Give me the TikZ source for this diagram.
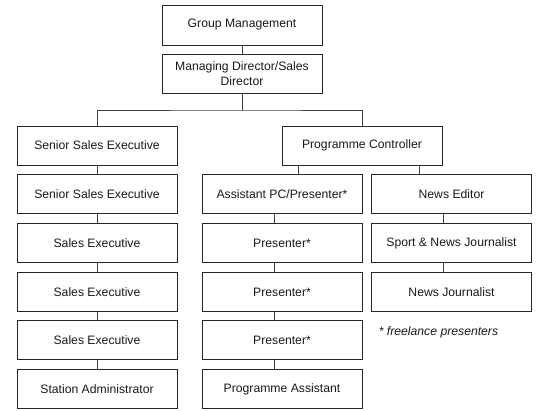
\documentclass[tikz,border=0pt]{standalone}
\usepackage{fontspec}
\setmainfont{Liberation Sans}
\usepackage{tikz}
\usetikzlibrary{positioning,calc}
\tikzset{
    post/.style={rectangle, draw=black!85, line width=0.9pt, minimum width=160pt, minimum height=39pt, inner sep=2pt, align=center, font=\fontsize{12.2}{14.5}\selectfont, text=black!90},
    link/.style={draw=black!75, line width=0.8pt},
    note/.style={font=\fontsize{12.2}{14.5}\selectfont\itshape, text=black!90, inner sep=0pt},
}
\begin{document}
\begin{tikzpicture}[x=1pt, y=-1pt]
\useasboundingbox (0,0) rectangle (540,411);

% Top of the chart
\node[post, minimum height=40pt] (gm) at (242,25) {Group Management};
\node[post] (md) at (242,73.5) {Managing Director/Sales\\Director};
\coordinate (bus) at (242,110);

% Sales column
\node[post] (sse1) at (97,145.5) {Senior Sales Executive};
\node[post] (sse2) at (97,194) {Senior Sales Executive};
\node[post] (se1) at (97,243) {Sales Executive};
\node[post] (se2) at (97,292) {Sales Executive};
\node[post] (se3) at (97,340) {Sales Executive};
\node[post] (sa) at (97,389) {Station Administrator};

% Programme column
\node[post] (pc) at (362,145.5) {Programme Controller};
\node[post] (apc) at (282,194) {Assistant PC/Presenter*};
\node[post] (pr1) at (282,243) {Presenter*};
\node[post] (pr2) at (282,292) {Presenter*};
\node[post] (pr3) at (282,340) {Presenter*};
\node[post] (pa) at (282,389) {Programme Assistant};

% News column
\node[post] (ne) at (451.5,194) {News Editor};
\node[post] (snj) at (451.5,243) {Sport \& News Journalist};
\node[post] (nj) at (451.5,292) {News Journalist};

\node[note] (fn) at (438.5,332) {* freelance presenters};

% Connectors
\draw[link] (gm) -- (md);
\draw[link] (md) -- (bus);
\draw[link] (sse1.north) |- (bus) -| (pc.north);

\foreach \a/\b in {sse1/sse2, sse2/se1, se1/se2, se2/se3, se3/sa}
  \draw[link] (\a) -- (\b);

\foreach \a/\b in {apc/pr1, pr1/pr2, pr2/pr3, pr3/pa, ne/snj, snj/nj}
  \draw[link] ([xshift=-8pt]\a.south) -- ([xshift=-8pt]\b.north);

\draw[link] ([xshift=16pt]apc.north) -- ([xshift=16pt]apc.north |- pc.south);
\draw[link] ([xshift=-32pt]ne.north) -- ([xshift=-32pt]ne.north |- pc.south);

\end{tikzpicture}
\end{document}
